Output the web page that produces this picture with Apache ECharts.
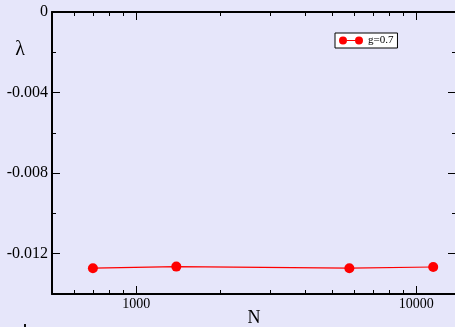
<!DOCTYPE html>
<html>
<head>
<meta charset="utf-8">
<script src="https://cdn.jsdelivr.net/npm/echarts@6/dist/echarts.min.js"></script>
<style>
html,body{margin:0;padding:0;background:#e6e6fa;}
#c{width:455px;height:327px;}
</style>
</head>
<body>
<div id="c"></div>
<script>
// Data
const nValues = [700, 1390, 5770, 11500];
const lambdaValues = [-0.01272, -0.01264, -0.01272, -0.01266];
const seriesName = 'g=0.7';
// Tick labels / ticks
const xMajorTicks = [1000, 10000];
const xMinorTicks = [600, 700, 800, 900, 2000, 3000, 4000, 5000, 6000, 7000, 8000, 9000];
const yMajorTicks = [0, -0.004, -0.008, -0.012];
const yMinorTicks = [-0.002, -0.006, -0.010];
const xRange = [500, 13870];
const yRange = [-0.014, 0];

const FONT = 'Liberation Serif';
const chart = echarts.init(document.getElementById('c'), null, {renderer: 'canvas'});

function xAx(pos, ticks, len, showLine, showLabel) {
  return {
    type: 'log', logBase: 10, position: pos, min: xRange[0], max: xRange[1],
    axisLine: {show: showLine, onZero: false, lineStyle: {color: '#000', width: 2}},
    axisTick: {show: true, inside: true, length: len, customValues: ticks, lineStyle: {color: '#000', width: 1}},
    axisLabel: {show: showLabel, customValues: ticks, margin: 3, color: '#000', fontFamily: FONT, fontSize: 14,
      formatter: v => String(Math.round(v))},
    splitLine: {show: false}, minorTick: {show: false}
  };
}
function yAx(pos, ticks, len, showLine, showLabel) {
  return {
    type: 'value', position: pos, min: yRange[0], max: yRange[1],
    axisLine: {show: showLine, onZero: false, lineStyle: {color: '#000', width: 2}},
    axisTick: {show: true, inside: true, length: len, customValues: ticks, lineStyle: {color: '#000', width: 1}},
    axisLabel: {show: showLabel, customValues: ticks, margin: 4, color: '#000', fontFamily: FONT, fontSize: 16,
      formatter: v => (Math.abs(v) < 1e-12 ? '0' : v.toFixed(3))},
    splitLine: {show: false}
  };
}

chart.setOption({
  backgroundColor: '#e6e6fa',
  animation: false,
  grid: {left: 52, top: 12, right: -1, bottom: 33, containLabel: false, outerBoundsMode: 'none'},
  legend: {
    left: 335, top: 33, orient: 'horizontal',
    backgroundColor: '#fff', borderColor: '#000', borderWidth: 1, borderRadius: 0,
    padding: [2, 4, 2, 4], itemWidth: 24, itemHeight: 8,
    icon: 'path://M0,4 A4,4 0 1,0 8,4 A4,4 0 1,0 0,4 Z M8,3.5 L16,3.5 L16,4.5 L8,4.5 Z M16,4 A4,4 0 1,0 24,4 A4,4 0 1,0 16,4 Z',
    textStyle: {fontFamily: FONT, fontSize: 11, color: '#000'},
    data: [seriesName]
  },
  xAxis: [
    Object.assign(xAx('bottom', xMajorTicks, 8, true, true), {
      name: 'N', nameLocation: 'middle', nameGap: 15, nameMoveOverlap: false,
      nameTextStyle: {fontFamily: FONT, fontSize: 18, color: '#000', verticalAlign: 'top'}
    }),
    xAx('bottom', xMinorTicks, 4, false, false),
    xAx('top', xMajorTicks, 8, true, false),
    xAx('top', xMinorTicks, 4, false, false)
  ],
  yAxis: [
    yAx('left', yMajorTicks, 8, true, true),
    yAx('left', yMinorTicks, 4, false, false),
    yAx('right', yMajorTicks, 8, true, false),
    yAx('right', yMinorTicks, 4, false, false)
  ],
  graphic: [
    {type: 'text', x: 20, y: 50, style: {text: 'λ', font: '20px "Liberation Serif"', fill: '#000', align: 'center', verticalAlign: 'middle'}},
    {type: 'rect', shape: {x: 24, y: 324, width: 2, height: 3}, style: {fill: '#111'}}
  ],
  series: [{
    name: seriesName, type: 'line', xAxisIndex: 0, yAxisIndex: 0,
    data: nValues.map((n, i) => [n, lambdaValues[i]]),
    symbol: 'circle', symbolSize: 10,
    itemStyle: {color: '#ff0000'},
    lineStyle: {color: '#ff0000', width: 1.2}
  }]
});
</script>
</body>
</html>
